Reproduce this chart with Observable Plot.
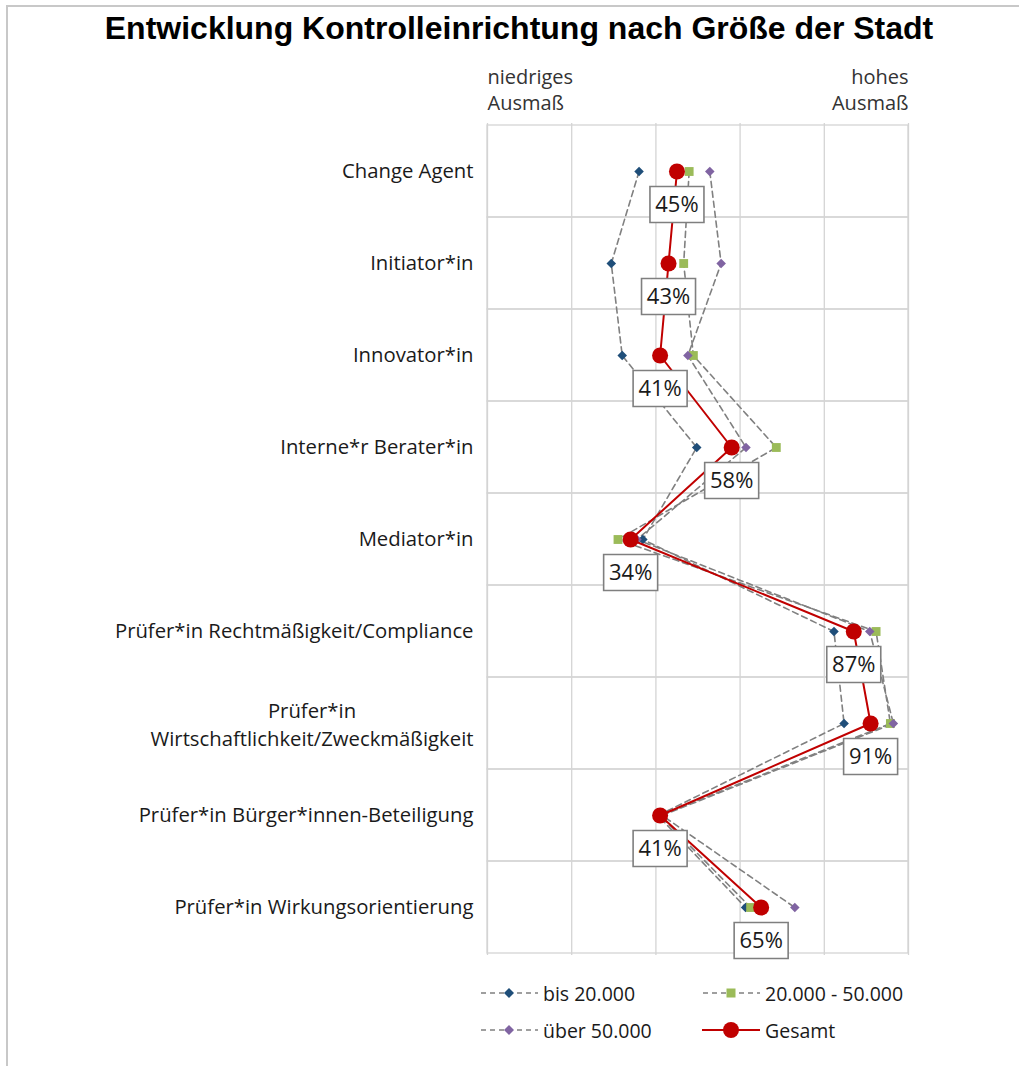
<!DOCTYPE html>
<html>
<head>
<meta charset="utf-8">
<script src="https://cdn.jsdelivr.net/npm/d3@7"></script>
<script src="https://cdn.jsdelivr.net/npm/@observablehq/plot@0.6"></script>
<style>
  html, body { margin: 0; padding: 0; background: #fff; }
  body { width: 1019px; height: 1066px; position: relative; overflow: hidden; font-family: "Open Sans", sans-serif; color: #1a1a1a; }
  #frame { position: absolute; left: 6px; top: 5px; right: 0; bottom: 0; border-top: 2px solid #c8c8c8; border-left: 2px solid #c8c8c8; }
  #title { position: absolute; left: 0; top: 0; width: 1038px; height: 56px; line-height: 56px; text-align: center;
           font-family: "Liberation Sans", Arial, sans-serif; font-weight: bold; font-size: 32px; color: #000; white-space: nowrap; }
  #chart { position: absolute; left: 0; top: 55px; }
  .leg { position: absolute; height: 30px; display: flex; align-items: center; font-size: 19.5px; color: #1a1a1a; white-space: nowrap; }
  .leg svg { margin-right: 5px; }
</style>
</head>
<body>
<div id="frame"></div>
<div id="title">Entwicklung Kontrolleinrichtung nach Größe der Stadt</div>
<div id="chart"></div>
<div id="legend"></div>
<script>
// ---- data ----
const categories = [
  "Change Agent",
  "Initiator*in",
  "Innovator*in",
  "Interne*r Berater*in",
  "Mediator*in",
  "Prüfer*in Rechtmäßigkeit/Compliance",
  "Prüfer*in\nWirtschaftlichkeit/Zweckmäßigkeit",
  "Prüfer*in Bürger*innen-Beteiligung",
  "Prüfer*in Wirkungsorientierung"
];
const seriesNames = ["bis 20.000", "20.000 - 50.000", "über 50.000", "Gesamt"];
const bis20k   = [36.0, 29.4, 32.0, 49.7, 36.9, 82.3, 84.7, 40.5, 61.3];
const bis50k   = [47.9, 46.6, 48.9, 68.6, 31.0, 92.3, 95.7, 41.0, 62.5];
const ueber50k = [52.8, 55.5, 47.6, 61.4, 35.5, 90.8, 96.4, 41.5, 73.0];
const gesamt   = [45, 43, 41, 58, 34, 87, 91, 41, 65];
const gridTicks = [0, 20, 40, 60, 80, 100];
const headerLeft = "niedriges\nAusmaß";
const headerRight = "hohes\nAusmaß";

// ---- styles ----
const colors = {blue: "#1f4e79", green: "#9bbb59", purple: "#8064a2", red: "#c00000", dash: "#808080", grid: "#d4d4d4"};

const rows = (vals, s) => categories.map((c, i) => ({cat: c, value: vals[i], series: s}));
const dBlue = rows(bis20k, seriesNames[0]);
const dGreen = rows(bis50k, seriesNames[1]);
const dPurple = rows(ueber50k, seriesNames[2]);
const dGes = rows(gesamt, seriesNames[3]);

const boxSymbol = {draw(ctx) { ctx.rect(-27, -18, 54, 36); }};

const labelFont = 20.3;
const single = categories.filter(c => !c.includes("\n"));
const multi = categories.filter(c => c.includes("\n"));
const cv = document.createElement("canvas").getContext("2d");
cv.font = `${labelFont}px "Open Sans"`;
const multiW = multi.length ? d3.max(multi[0].split("\n"), s => cv.measureText(s).width) : 0;

const dashed = {stroke: colors.dash, strokeWidth: 1.6, strokeDasharray: "6,4"};

const chart = Plot.plot({
  width: 1019,
  height: 915,
  marginLeft: 487,
  marginRight: 111,
  marginTop: 68,
  marginBottom: 15,
  x: {domain: [0, 100], axis: null},
  y: {domain: categories, type: "band", padding: 0, axis: null},
  style: {fontFamily: "Open Sans", fontSize: labelFont + "px", color: "#1a1a1a", background: "transparent", overflow: "visible"},
  marks: [
    Plot.barX(categories, {y: d => d, x1: () => 0, x2: () => 100, fill: "none", stroke: colors.grid, strokeWidth: 1.3}),
    Plot.ruleX(gridTicks, {stroke: colors.grid, strokeWidth: 1.3}),
    Plot.text([headerLeft], {x: () => 0, frameAnchor: "top", textAnchor: "start", lineAnchor: "middle", dy: -35, fontSize: 20, lineHeight: 26 / 20, fill: "#333"}),
    Plot.text([headerRight], {x: () => 100, frameAnchor: "top", textAnchor: "end", lineAnchor: "middle", dy: -35, fontSize: 20, lineHeight: 26 / 20, fill: "#333"}),
    Plot.text(single, {x: () => 0, y: d => d, text: d => d, textAnchor: "end", dx: -14, fill: "#1a1a1a"}),
    Plot.text(multi, {x: () => 0, y: d => d, text: d => d, textAnchor: "middle", dx: -14 - multiW / 2, lineHeight: 28 / labelFont, fill: "#1a1a1a"}),
    Plot.line(dBlue, {x: "value", y: "cat", ...dashed}),
    Plot.line(dGreen, {x: "value", y: "cat", ...dashed}),
    Plot.line(dPurple, {x: "value", y: "cat", ...dashed}),
    Plot.dot(dBlue, {x: "value", y: "cat", symbol: "diamond2", r: 4.3, fill: colors.blue}),
    Plot.dot(dGreen, {x: "value", y: "cat", symbol: "square", r: 5, fill: colors.green}),
    Plot.dot(dPurple, {x: "value", y: "cat", symbol: "diamond2", r: 4.3, fill: colors.purple}),
    Plot.line(dGes, {x: "value", y: "cat", stroke: colors.red, strokeWidth: 2}),
    Plot.dot(dGes, {x: "value", y: "cat", r: 8, fill: colors.red}),
    Plot.dot(dGes, {x: "value", y: "cat", symbol: boxSymbol, dy: 33, fill: "white", stroke: "#7f7f7f", strokeWidth: 1.6}),
    Plot.text(dGes, {x: "value", y: "cat", text: d => d.value + "%", dy: 33, fontSize: 22, fill: "#1a1a1a"})
  ]
});
document.getElementById("chart").appendChild(chart);

// ---- legend ----
function legendSym(kind) {
  const w = 58, h = 22, c = h / 2;
  let line, mark;
  if (kind === 3) {
    line = `<line x1="0" x2="${w}" y1="${c}" y2="${c}" stroke="${colors.red}" stroke-width="2"/>`;
    mark = `<circle cx="${w / 2}" cy="${c}" r="8" fill="${colors.red}"/>`;
  } else {
    line = `<line x1="1" x2="${w}" y1="${c}" y2="${c}" stroke="${colors.dash}" stroke-width="1.6" stroke-dasharray="5,4"/>`;
    const col = [colors.blue, colors.green, colors.purple][kind];
    mark = kind === 1
      ? `<rect x="${w / 2 - 4.5}" y="${c - 4.5}" width="9" height="9" fill="${col}"/>`
      : `<path d="M${w / 2},${c - 5}L${w / 2 + 5},${c}L${w / 2},${c + 5}L${w / 2 - 5},${c}Z" fill="${col}"/>`;
  }
  return `<svg width="${w}" height="${h}">${line}${mark}</svg>`;
}
const legPos = [[480, 993], [702, 993], [480, 1030], [702, 1030]];
const legend = document.getElementById("legend");
seriesNames.forEach((name, i) => {
  const el = document.createElement("div");
  el.className = "leg";
  el.style.left = legPos[i][0] + "px";
  el.style.top = (legPos[i][1] - 15) + "px";
  el.innerHTML = legendSym(i) + `<span>${name}</span>`;
  legend.appendChild(el);
});
</script>
</body>
</html>
